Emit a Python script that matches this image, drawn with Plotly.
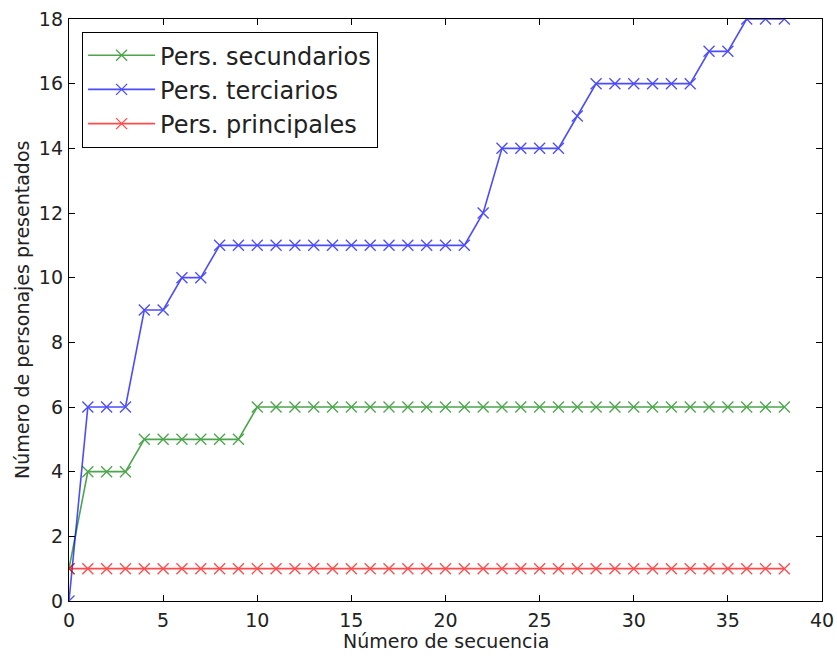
import plotly.graph_objects as go

seq = list(range(39))
secundarios = [1, 4, 4, 4, 5, 5, 5, 5, 5, 5] + [6] * 29
terciarios = [0, 6, 6, 6, 9, 9, 10, 10] + [11] * 14 + [12, 14, 14, 14, 14, 15] + [16] * 6 + [17, 17, 18, 18, 18]
principales = [1] * 39

series = [
    ("Pers. secundarios", secundarios, "rgb(0,128,0)"),
    ("Pers. terciarios", terciarios, "rgb(0,0,255)"),
    ("Pers. principales", principales, "rgb(255,0,0)"),
]

fig = go.Figure()
for name, vals, col in series:
    fig.add_trace(go.Scatter(
        x=seq, y=vals, name=name, mode="lines+markers",
        line=dict(color=col, width=1.6),
        marker=dict(symbol="x-thin", size=11, line=dict(color=col, width=1.3)),
        opacity=0.7, cliponaxis=True,
    ))

axis_common = dict(
    showline=True, linecolor="black", linewidth=1.3, mirror="ticks",
    ticks="inside", ticklen=6, tickwidth=1, tickcolor="black",
    showgrid=False, zeroline=False, automargin=False,
    tickfont=dict(family="DejaVu Sans", size=19, color="#222"),
)

fig.update_layout(
    width=837, height=659,
    margin=dict(l=69, r=15, t=19, b=58),
    paper_bgcolor="white", plot_bgcolor="white",
    font=dict(family="DejaVu Sans", color="#222"),
    xaxis=dict(range=[0, 40], dtick=5, ticklabelstandoff=2, **axis_common),
    yaxis=dict(range=[0, 18], dtick=2, ticklabelstandoff=1, **axis_common),
    legend=dict(x=0.017, y=0.978, xanchor="left", yanchor="top",
                bordercolor="black", borderwidth=1.3, bgcolor="white",
                font=dict(family="DejaVu Sans", size=24, color="#222"),
                tracegroupgap=0, itemwidth=67),
    showlegend=True,
    annotations=[
        dict(text="Número de secuencia", xref="paper", yref="paper",
             x=0.5, y=-(641 - 601) / 582, xanchor="center", yanchor="middle",
             showarrow=False, font=dict(family="DejaVu Sans", size=19, color="#222")),
        dict(text="Número de personajes presentados", xref="paper", yref="paper",
             x=-(69 - 22) / 753, y=0.5, xanchor="center", yanchor="middle", textangle=-90,
             showarrow=False, font=dict(family="DejaVu Sans", size=19, color="#222")),
    ],
)

fig.write_html("out.html", config={"displayModeBar": False},
               post_script="document.body.style.margin='0';document.body.style.overflow='hidden';")
